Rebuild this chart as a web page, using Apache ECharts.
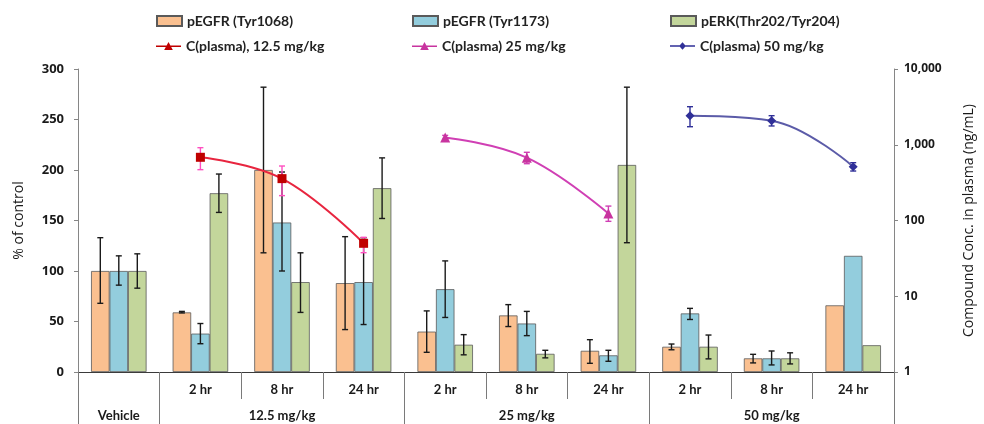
<!DOCTYPE html>
<html>
<head>
<meta charset="utf-8">
<script src="https://cdn.jsdelivr.net/npm/echarts@6/dist/echarts.min.js"></script>
<style>
html,body{margin:0;padding:0;background:#fff;}
#chart{width:984px;height:424px;}
</style>
</head>
<body>
<div id="chart"></div>
<script>
// ---------- DATA ----------
const timeLabels = ['', '2 hr', '8 hr', '24 hr', '2 hr', '8 hr', '24 hr', '2 hr', '8 hr', '24 hr'];
const groupLabels = ['Vehicle', '', '12.5 mg/kg', '', '', '25 mg/kg', '', '', '50 mg/kg', ''];
const leftTicks = [0, 50, 100, 150, 200, 250, 300];
const rightTicks = [1, 10, 100, 1000, 10000];

const seriesNames = ['pEGFR (Tyr1068)', 'pEGFR (Tyr1173)', 'pERK(Thr202/Tyr204)'];
const pEGFR1068 = [100, 59, 200, 88, 40, 56, 21, 25, 13.5, 66];
const pEGFR1068Lo = [68, 58.5, 118, 42, 19.5, 45, 8.6, 22, 9, null];
const pEGFR1068Hi = [133, 60, 282, 134, 60.5, 66.7, 32, 27.7, 17.5, null];
const pEGFR1173 = [100, 38, 148, 89, 82, 48, 16.5, 58, 13.5, 115];
const pEGFR1173Lo = [86, 28, 100, 47, 54, 36, 10.6, 52, 7, null];
const pEGFR1173Hi = [115, 48, 198, 133, 110, 60, 21.5, 63, 20.8, null];
const pERK = [100, 177, 89, 182, 27, 18, 205, 25, 13.5, 26.5];
const pERKLo = [83, 158, 59, 152, 17, 14, 128, 13, 8, null];
const pERKHi = [117, 196, 118, 212, 37, 21.5, 282, 36.6, 19, null];

const lineNames = ['C(plasma), 12.5 mg/kg', 'C(plasma) 25 mg/kg', 'C(plasma) 50 mg/kg'];
const conc125 = [null, 683, 357, 50, null, null, null, null, null, null];
const conc125Lo = [null, 469, 213, 37.6, null, null, null, null, null, null];
const conc125Hi = [null, 915, 524, 60, null, null, null, null, null, null];
const conc25 = [null, null, null, null, 1250, 675, 124, null, null, null];
const conc25Lo = [null, null, null, null, 1180, 562, 97.5, null, null, null];
const conc25Hi = [null, null, null, null, 1330, 795, 155, null, null, null];
const conc50 = [null, null, null, null, null, null, null, 2420, 2080, 514];
const conc50Lo = [null, null, null, null, null, null, null, 1730, 1770, 450];
const conc50Hi = [null, null, null, null, null, null, null, 3180, 2420, 580];

// ---------- STYLE ----------
const BAR_W = 18.5;
const barColors = ['#FAC090', '#93CDDD', '#C3D69B'];
const lineColors = ['#E8253F', '#D03FB4', '#5B5BA8'];
const markerColors = ['#C00000', '#C8349F', '#303098'];
const errLineColors = ['#FF4FC0', '#D03FB4', '#303098'];
const fontLabel = 'Lato, "Open Sans", sans-serif';
const fontAxis = '"Open Sans", Lato, sans-serif';

function errData(lo, hi) {
  const out = [];
  for (let i = 0; i < lo.length; i++) {
    if (lo[i] != null && hi[i] != null) out.push([i, lo[i], hi[i]]);
  }
  return out;
}

function errRenderer(offsetIdx, color, cap, width) {
  return function (params, api) {
    const x = api.value(0);
    const pLo = api.coord([x, api.value(1)]);
    const pHi = api.coord([x, api.value(2)]);
    const cx = pLo[0] + offsetIdx * BAR_W;
    const st = { stroke: color, lineWidth: width };
    return {
      type: 'group',
      children: [
        { type: 'line', shape: { x1: cx, y1: pLo[1], x2: cx, y2: pHi[1] }, style: st },
        { type: 'line', shape: { x1: cx - cap, y1: pHi[1], x2: cx + cap, y2: pHi[1] }, style: st },
        { type: 'line', shape: { x1: cx - cap, y1: pLo[1], x2: cx + cap, y2: pLo[1] }, style: st }
      ]
    };
  };
}

const barVals = [pEGFR1068, pEGFR1173, pERK];
const barLo = [pEGFR1068Lo, pEGFR1173Lo, pERKLo];
const barHi = [pEGFR1068Hi, pEGFR1173Hi, pERKHi];
const lineVals = [conc125, conc25, conc50];
const lineLo = [conc125Lo, conc25Lo, conc50Lo];
const lineHi = [conc125Hi, conc25Hi, conc50Hi];
const lineSymbols = ['rect', 'triangle', 'diamond'];
const lineSymbolSizes = [9, 10, 9];

const series = [];
barVals.forEach(function (vals, k) {
  series.push({
    name: seriesNames[k], type: 'bar', xAxisIndex: 0, yAxisIndex: 0,
    data: vals, barWidth: BAR_W, barGap: '0%',
    itemStyle: { color: barColors[k], borderColor: '#5a5a5a', borderWidth: 0.8 },
    z: 2
  });
});
barVals.forEach(function (vals, k) {
  series.push({
    type: 'custom', xAxisIndex: 0, yAxisIndex: 0,
    data: errData(barLo[k], barHi[k]),
    encode: { x: 0, y: [1, 2] },
    renderItem: errRenderer(k - 1, '#1a1a1a', 3, 1.4),
    z: 3, silent: true
  });
});
lineVals.forEach(function (vals, k) {
  series.push({
    type: 'custom', xAxisIndex: 0, yAxisIndex: 1,
    data: errData(lineLo[k], lineHi[k]),
    encode: { x: 0, y: [1, 2] },
    renderItem: errRenderer(0, errLineColors[k], 3, 1.4),
    z: 4, silent: true
  });
});
lineVals.forEach(function (vals, k) {
  series.push({
    name: lineNames[k], type: 'line', xAxisIndex: 0, yAxisIndex: 1,
    data: vals, smooth: 0.4, connectNulls: false,
    symbol: lineSymbols[k], symbolSize: lineSymbolSizes[k], showSymbol: true,
    lineStyle: { color: lineColors[k], width: 2 },
    itemStyle: { color: markerColors[k] },
    z: 5
  });
});

function legendAt(name, left, top, icon, w, h) {
  const item = { name: name };
  if (icon) item.icon = icon;
  return {
    data: [item], left: left, top: top, itemWidth: w, itemHeight: h, itemGap: 4,
    padding: 0, selectedMode: false,
    textStyle: { fontFamily: fontLabel, fontSize: 14, fontWeight: 'bold', color: '#222' }
  };
}

const option = {
  animation: false,
  backgroundColor: '#fff',
  grid: { left: 78, right: 77, top: 69, bottom: 52, containLabel: false },
  legend: [
    legendAt(seriesNames[0], 156, 14, 'rect', 25, 10),
    legendAt(seriesNames[1], 412, 14, 'rect', 25, 10),
    legendAt(seriesNames[2], 670, 14, 'rect', 25, 10),
    legendAt(lineNames[0], 156, 39, 'path://M0 6.3 H26 V7.7 H0 Z M13 2.5 L17.5 11 L8.5 11 Z', 25, 12),
    legendAt(lineNames[1], 412, 39, 'path://M0 6.3 H26 V7.7 H0 Z M13 2.5 L17.5 11 L8.5 11 Z', 25, 12),
    legendAt(lineNames[2], 670, 39, 'path://M0 6.3 H26 V7.7 H0 Z M13 3 L16.5 7 L13 11 L9.5 7 Z', 25, 12)
  ],
  xAxis: [
    {
      type: 'category', data: timeLabels, position: 'bottom', boundaryGap: true,
      axisLine: { show: true, lineStyle: { color: '#3a3a3a', width: 1.2 } },
      axisTick: {
        show: true, length: 27, inside: false,
        interval: function (i) { return i >= 1 && i <= 9; },
        lineStyle: { color: '#7a7a7a', width: 1 }
      },
      axisLabel: {
        interval: 0, margin: 11, fontFamily: fontLabel, fontSize: 13,
        fontWeight: 'bold', color: '#1a1a1a'
      },
      splitLine: { show: false }
    },
    {
      type: 'category', data: groupLabels, position: 'bottom', offset: 0, boundaryGap: true,
      axisLine: { show: false },
      axisTick: {
        show: true, length: 52, inside: false,
        interval: function (i) { return i === 0 || i === 1 || i === 4 || i === 7; },
        lineStyle: { color: '#7a7a7a', width: 1 }
      },
      axisLabel: {
        interval: 0, margin: 37, fontFamily: fontLabel, fontSize: 13,
        fontWeight: 'bold', color: '#1a1a1a'
      },
      splitLine: { show: false }
    }
  ],
  yAxis: [
    {
      type: 'value', position: 'left', min: leftTicks[0], max: leftTicks[leftTicks.length - 1], interval: 50,
      name: '% of control', nameLocation: 'middle', nameRotate: 90, nameGap: 52,
      nameTextStyle: { fontFamily: fontAxis, fontSize: 14, color: '#1a1a1a' },
      axisLine: { show: true, lineStyle: { color: '#868686' } },
      axisTick: { show: true, length: 4, lineStyle: { color: '#868686' } },
      axisLabel: { margin: 14, fontFamily: fontAxis, fontSize: 13, fontWeight: 'bold', color: '#1a1a1a' },
      splitLine: { show: false }
    },
    {
      type: 'log', logBase: 10, position: 'right', min: rightTicks[0], max: rightTicks[rightTicks.length - 1],
      name: 'Compound Conc. in plasma (ng/mL)', nameLocation: 'middle', nameRotate: 90, nameGap: 68,
      nameTextStyle: { fontFamily: fontAxis, fontSize: 14, color: '#1a1a1a' },
      axisLine: { show: true, lineStyle: { color: '#868686' } },
      axisTick: { show: true, length: 4, lineStyle: { color: '#868686' } },
      axisLabel: {
        margin: 10, fontFamily: fontAxis, fontSize: 12, fontWeight: 'bold', color: '#1a1a1a',
        formatter: function (v) { return Number(v).toLocaleString('en-US'); }
      },
      splitLine: { show: false }
    }
  ],
  series: series
};

const chart = echarts.init(document.getElementById('chart'), null, { renderer: 'canvas' });
chart.setOption(option);
</script>
</body>
</html>
